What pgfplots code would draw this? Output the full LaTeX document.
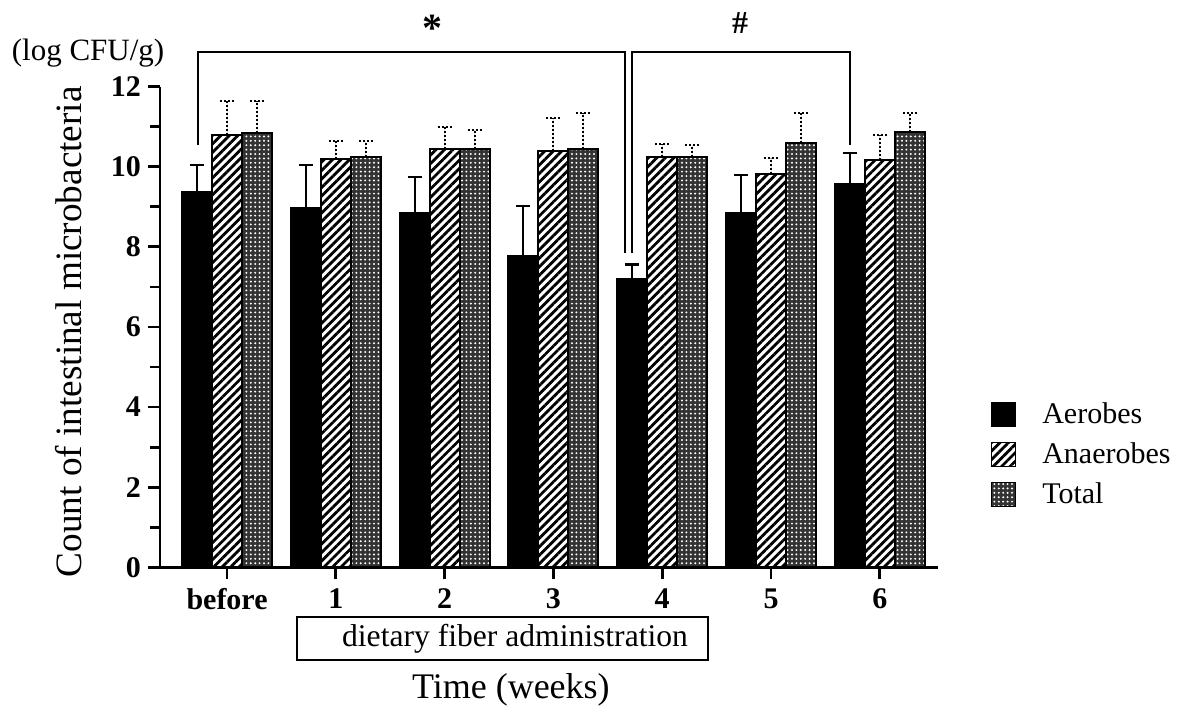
\documentclass[border=0pt]{standalone}
\usepackage{fontspec}
\setmainfont{Liberation Serif}
\usepackage{pgfplots}
\usepackage{pgfplotstable}
\pgfplotsset{compat=1.18}
\usetikzlibrary{patterns.meta}

\pgfplotstableread{
x aer aerE ana anaE tot totE
0 9.37 0.67 10.79 0.86 10.85 0.80
1 8.98 1.06 10.19 0.45 10.25 0.39
2 8.85 0.90 10.45 0.55 10.44 0.47
3 7.78 1.24 10.39 0.84 10.44 0.91
4 7.19 0.37 10.25 0.31 10.25 0.29
5 8.85 0.94 9.83 0.40 10.60 0.75
6 9.58 0.77 10.18 0.61 10.86 0.49
}\datatable

\begin{document}
\begin{tikzpicture}
\begin{axis}[
  scale only axis, width=389pt, height=240.3pt,
  xmin=-0.616, xmax=6.535, ymin=0, ymax=12,
  axis lines=left, axis line style={-, line width=1.4pt},
  ybar=0pt, bar width=15pt,
  xtick={0,...,6}, xticklabels={before,1,2,3,4,5,6},
  ytick={0,2,...,12}, minor ytick={1,3,...,11},
  tick align=outside, major tick length=6pt, minor tick length=5pt,
  every tick/.style={line width=1.4pt, black},
  /pgf/number format/assume math mode=true,
  ticklabel style={font=\bfseries\fontsize{15}{18}\selectfont},
  xticklabel style={yshift=-1pt},
  clip=false,
  xlabel={Time (weeks)},
  xlabel style={at={(axis description cs:0.451,-0.255)}, anchor=center, font=\fontsize{18}{21}\selectfont},
  ylabel={Count of intestinal microbacteria},
  ylabel style={at={(axis description cs:-0.117,0.49)}, anchor=center, font=\fontsize{18.6}{21}\selectfont},
  legend style={at={(axis description cs:1.06,0.36)}, anchor=north west, draw=none, fill=none,
    font=\fontsize{15}{18}\selectfont, row sep=4pt, legend cell align=left},
  legend image code/.code={\draw[#1, line width=0.6pt] (0pt,-6pt) rectangle (12pt,6pt);},
]
\addplot[draw=black, line width=1pt, fill=black,
  error bars/.cd, y dir=plus, y explicit,
  error bar style={line width=1pt, solid, black},
  error mark options={rotate=90, mark size=3.5pt, line width=1.2pt}]
  table[x=x, y=aer, y error=aerE] {\datatable};
\addplot[draw=black, line width=1pt, fill=white, pattern={Lines[angle=45,distance=3pt,line width=1.4pt]},
  error bars/.cd, y dir=plus, y explicit,
  error bar style={line width=1pt, densely dotted, black},
  error mark options={rotate=90, mark size=3.5pt, line width=1pt, densely dotted}]
  table[x=x, y=ana, y error=anaE] {\datatable};
\addplot[draw=black, line width=1pt, fill=black!80, postaction={pattern={Dots[distance=2.2pt,radius=0.55pt]}, pattern color=white},
  error bars/.cd, y dir=plus, y explicit,
  error bar style={line width=1pt, densely dotted, black},
  error mark options={rotate=90, mark size=3.5pt, line width=1pt, densely dotted}]
  table[x=x, y=tot, y error=totE] {\datatable};
\legend{\hspace{11pt}Aerobes, \hspace{11pt}Anaerobes, \hspace{11pt}Total}

\draw[line width=1pt] (axis cs:-0.266,10.54) -- (axis cs:-0.266,12.86) -- (axis cs:3.66,12.86) -- (axis cs:3.66,7.85);
\draw[line width=1pt] (axis cs:3.72,7.85) -- (axis cs:3.72,12.86) -- (axis cs:5.73,12.86) -- (axis cs:5.73,10.54);
\node[font=\bfseries\fontsize{20}{22}\selectfont] at (axis cs:1.884,13.45) {*};
\node[font=\bfseries\fontsize{16}{20}\selectfont] at (axis cs:4.715,13.58) {\#};
\draw[line width=0.8pt] (axis cs:0.643,-1.24) rectangle (axis cs:4.42,-2.31);
\node[font=\fontsize{15.8}{18}\selectfont] at (axis cs:2.647,-1.775) {dietary fiber administration};
\node[font=\fontsize{15.5}{18}\selectfont] at (axis description cs:-0.0925,1.070) {(log CFU/g)};
\path (rel axis cs:-0.2057,1.1804) rectangle (rel axis cs:1.3162,-0.3011);
\end{axis}
\end{tikzpicture}
\end{document}
